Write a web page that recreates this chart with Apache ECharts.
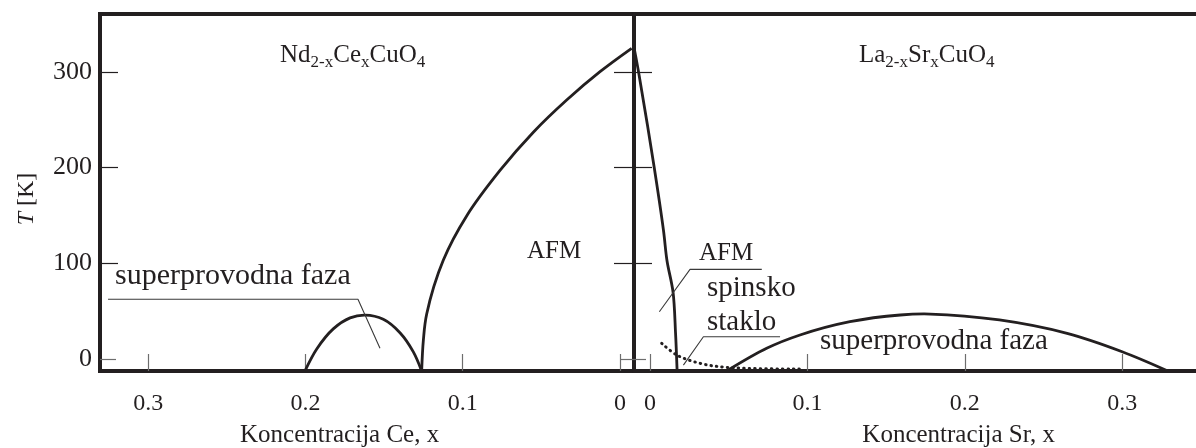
<!DOCTYPE html>
<html><head><meta charset="utf-8">
<script src="https://cdn.jsdelivr.net/npm/echarts@6/dist/echarts.min.js"></script>
<style>html,body{margin:0;padding:0;background:#fff}#c{width:1196px;height:448px}</style>
</head><body><div id="c"></div>
<script>
const FONT = "'Liberation Serif','Times New Roman',serif";
const INK = '#231f20';
// ---- data (x = concentration, T in K) ----
// Left panel: Nd2-xCexCuO4 (x axis runs right-to-left)
const ndAfm = [[0.1261,-12.5],[0.1250,19.9],[0.1229,47],[0.1123,103.4],[0.0975,149.5],[0.0763,197],[0.0551,237],[0.0339,270.6],[0.0127,300.2],[-0.0074,324.6]];
const ndSc = [[0.2003,-12.5],[0.1928,10.5],[0.1823,31.5],[0.1716,43.0],[0.1621,45.9],[0.1505,41.5],[0.1399,27.5],[0.1314,7.5],[0.1261,-12.5]];
// Right panel: La2-xSrxCuO4
const laAfm = [[-0.0100,324],[-0.0073,300],[0.0025,201.7],[0.0085,134.8],[0.0108,102.4],[0.0146,70],[0.0162,27],[0.0172,-12.5]];
const laSc = [[0.0487,-12.5],[0.0741,11.2],[0.0953,25.1],[0.127,39],[0.159,46],[0.178,47],[0.222,40.8],[0.265,26.8],[0.300,7.6],[0.329,-12.5]];
const laSpinGlass = [[0.0074,16.4],[0.017,4.2],[0.0318,-4.5],[0.0487,-8.7],[0.0964,-10.5]];
// annotation leader lines (data coords)
const leaderNdSc = [[0.3255,62.4],[0.1666,62.4],[0.1526,11.2]];
const leaderLaAfm = [[0.0710,93.7],[0.0254,93.7],[0.0059,49.4]];
const leaderLaGlass = [[0.0826,23.3],[0.0339,23.3],[0.0212,-6.3]];
// ticks
const xTicks = [0, 0.1, 0.2, 0.3];
const yTicks = [0, 100, 200, 300];
const yTicksMajor = [100, 200, 300];
const yTickZero = [0];

const Y_MIN = -12.5, Y_MAX = 360.5;
const RX_MIN = -0.0102, RX_MAX = 0.3469;

// centripetal Catmull-Rom through pixel points -> SVG path
function splinePath(P){
  const L = (a,b) => Math.sqrt(Math.hypot(b[0]-a[0], b[1]-a[1]));
  let d = 'M' + P[0][0] + ' ' + P[0][1];
  for (let i = 0; i < P.length - 1; i++){
    const p0 = i > 0 ? P[i-1] : P[i], p1 = P[i], p2 = P[i+1], p3 = i + 2 < P.length ? P[i+2] : P[i+1];
    const d1 = L(p0,p1), d2 = L(p1,p2), d3 = L(p2,p3);
    let b1 = p1, b2 = p2;
    if (d1 > 1e-6){
      const a = 2*d1*d1 + 3*d1*d2 + d2*d2, n = 3*d1*(d1+d2);
      b1 = [(p1[0]*a - p0[0]*d2*d2 + p2[0]*d1*d1)/n, (p1[1]*a - p0[1]*d2*d2 + p2[1]*d1*d1)/n];
    }
    if (d3 > 1e-6){
      const b = 2*d3*d3 + 3*d3*d2 + d2*d2, m = 3*d3*(d3+d2);
      b2 = [(p2[0]*b + p1[0]*d3*d3 - p3[0]*d2*d2)/m, (p2[1]*b + p1[1]*d3*d3 - p3[1]*d2*d2)/m];
    }
    d += ' C' + b1[0] + ' ' + b1[1] + ' ' + b2[0] + ' ' + b2[1] + ' ' + p2[0] + ' ' + p2[1];
  }
  return d;
}
function curve(data, xi, yi, style){
  return {type:'custom', coordinateSystem:'cartesian2d', xAxisIndex:xi, yAxisIndex:yi, data:data,
    silent:true, clip:true,
    renderItem:(params, api) => {
      if (params.dataIndex !== 0) return null;
      const P = data.map(p => api.coord(p));
      return {type:'path', shape:{pathData:splinePath(P)},
        style:Object.assign({fill:'none', stroke:INK, lineWidth:2.8, lineJoin:'round'}, style||{})};
    }};
}

function xAxisCfg(gi, min, max, inverse, showLine){
  return {gridIndex:gi, type:'value', min:min, max:max, inverse:inverse, position:'bottom',
    axisLine:{show:!!showLine, onZero:false, lineStyle:{color:INK, width:4}}, splitLine:{show:false},
    axisTick:{show:true, inside:true, length:17, customValues:xTicks, lineStyle:{color:'#6d6d6d', width:1.2}},
    axisLabel:{show:true, customValues:xTicks, margin:21, fontSize:24, fontFamily:FONT, color:INK,
      formatter:v => (Math.abs(v) < 1e-9 ? '0' : v.toFixed(1))}};
}
function yAxisCfg(gi, pos, ticks, len, color, labels, line){
  return {gridIndex:gi, type:'value', position:pos, min:Y_MIN, max:Y_MAX, offset:0,
    axisLine:{show:!!line, onZero:false, lineStyle:{color:INK, width:4}}, splitLine:{show:false},
    axisTick:{show:true, inside:true, length:len, customValues:ticks, lineStyle:{color:color, width:1.2}},
    axisLabel:{show:!!labels, customValues:yTicks, margin:8, fontSize:26, fontFamily:FONT, color:INK}};
}
function leader(data, xi, yi){
  return {type:'line', data:data, xAxisIndex:xi, yAxisIndex:yi, symbol:'none', silent:true,
    smooth:false, lineStyle:{color:'#3a3a3a', width:1.1}};
}
function txt(x, y, text, size, align, extra){
  return Object.assign({type:'text', x:x, y:y, silent:true,
    style:{text:text, fontSize:size, fontFamily:FONT, fill:INK, align:align||'left', verticalAlign:'middle'}}, extra||{});
}
const subRich = {s:{fontSize:17, lineHeight:20, verticalAlign:'bottom', fontFamily:FONT, fill:INK}};

const chart = echarts.init(document.getElementById('c'), null, {renderer:'canvas'});
chart.setOption({
  animation:false,
  backgroundColor:'#fff',
  grid:[
    {left:100, top:14, width:534, height:357, show:true, borderColor:INK, borderWidth:4, backgroundColor:'transparent', outerBoundsMode:'none'},
    {left:634, top:14, width:562, height:357, show:false, outerBoundsMode:'none'}
  ],
  xAxis:[
    xAxisCfg(0, -0.0089, 0.3306, true, false),
    xAxisCfg(1, RX_MIN, RX_MAX, false, true),
    {gridIndex:1, type:'value', position:'top', min:RX_MIN, max:RX_MAX,
      axisLine:{show:true, onZero:false, lineStyle:{color:INK, width:4}},
      axisTick:{show:false}, axisLabel:{show:false}, splitLine:{show:false}}
  ],
  yAxis:[
    yAxisCfg(0, 'left', yTicksMajor, 18, INK, true, false),
    yAxisCfg(0, 'left', yTickZero, 16, '#6d6d6d', false, false),
    yAxisCfg(0, 'right', yTicksMajor, 20, INK, false, false),
    yAxisCfg(0, 'right', yTickZero, 13, '#6d6d6d', false, false),
    yAxisCfg(1, 'left', yTicksMajor, 18, INK, false, true),
    yAxisCfg(1, 'left', yTickZero, 12, '#6d6d6d', false, false)
  ],
  series:[
    curve(ndAfm, 0, 0),
    curve(ndSc, 0, 0),
    leader(leaderNdSc, 0, 0),
    curve(laAfm, 1, 4),
    curve(laSc, 1, 4),
    curve(laSpinGlass, 1, 4, {lineWidth:3, lineDash:[0.5,5], lineCap:'round'}),
    leader(leaderLaAfm, 1, 4),
    leader(leaderLaGlass, 1, 4)
  ],
  graphic:[
    {type:'text', x:280, y:55.8, silent:true, style:{text:'Nd{s|2-x}Ce{s|x}CuO{s|4}', fontSize:25, lineHeight:30, fontFamily:FONT, fill:INK, align:'left', verticalAlign:'middle', rich:subRich}},
    {type:'text', x:859, y:55.8, silent:true, style:{text:'La{s|2-x}Sr{s|x}CuO{s|4}', fontSize:25, lineHeight:30, fontFamily:FONT, fill:INK, align:'left', verticalAlign:'middle', rich:subRich}},
    txt(527, 251.8, 'AFM', 25),
    txt(699, 253.2, 'AFM', 25),
    txt(707, 288, 'spinsko', 29),
    txt(707, 322, 'staklo', 29),
    txt(115, 276, 'superprovodna faza', 30),
    txt(820, 341, 'superprovodna faza', 29),
    txt(240, 435.8, 'Koncentracija Ce, x', 25),
    txt(1055, 435.8, 'Koncentracija Sr, x', 25, 'right'),
    {type:'text', x:27, y:199, rotation:Math.PI/2, silent:true,
      style:{text:'{i|T} [K]', fontSize:24, fontFamily:FONT, fill:INK, align:'center', verticalAlign:'middle',
        rich:{i:{fontStyle:'italic', fontSize:24, fontFamily:FONT, fill:INK}}}}
  ]
});
</script>
</body></html>
